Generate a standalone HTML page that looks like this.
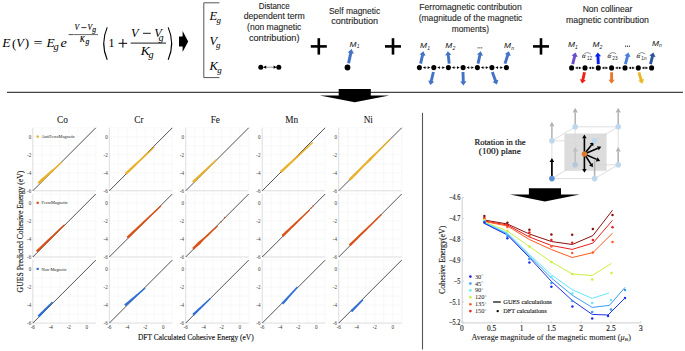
<!DOCTYPE html>
<html><head><meta charset="utf-8"><title>GUES</title>
<style>html,body{margin:0;padding:0;background:#fff;width:685px;height:351px;overflow:hidden}svg{display:block}</style>
</head><body>
<svg width="685" height="351" viewBox="0 0 685 351">
<rect width="685" height="351" fill="#fff"/>
<text x="2.30" y="47.30" font-family="Liberation Serif" font-size="13" fill="#000" font-style="italic" textLength="8.20" lengthAdjust="spacingAndGlyphs" stroke="#000" stroke-width="0.03">E</text>
<text x="12.00" y="47.50" font-family="Liberation Serif" font-size="13" fill="#000" font-style="normal" stroke="#000" stroke-width="0.03">(</text>
<text x="16.20" y="47.30" font-family="Liberation Serif" font-size="13" fill="#000" font-style="italic" textLength="7.60" lengthAdjust="spacingAndGlyphs" stroke="#000" stroke-width="0.03">V</text>
<text x="24.80" y="47.30" font-family="Liberation Serif" font-size="13" fill="#000" font-style="normal" stroke="#000" stroke-width="0.03">)</text>
<text x="33.60" y="47.30" font-family="Liberation Serif" font-size="13" fill="#000" textLength="9.00" lengthAdjust="spacingAndGlyphs">=</text>
<text x="46.60" y="47.30" font-family="Liberation Serif" font-size="13" fill="#000" font-style="italic" textLength="8.20" lengthAdjust="spacingAndGlyphs" stroke="#000" stroke-width="0.03">E</text>
<text x="53.60" y="50.20" font-family="Liberation Serif" font-size="10.5" fill="#000" font-style="italic" stroke="#000" stroke-width="0.03">g</text>
<text x="60.40" y="47.30" font-family="Liberation Serif" font-size="13" fill="#000" font-style="italic" textLength="6.30" lengthAdjust="spacingAndGlyphs" stroke="#000" stroke-width="0.03">e</text>
<line x1="68.60" y1="34.60" x2="73.40" y2="34.60" stroke="#000" stroke-width="0.7" />
<line x1="73.60" y1="34.60" x2="98.00" y2="34.60" stroke="#000" stroke-width="0.6" />
<text x="74.60" y="30.10" font-family="Liberation Serif" font-size="7.6" fill="#000" font-style="italic" stroke="#000" stroke-width="0.12">V</text>
<line x1="81.40" y1="27.60" x2="86.40" y2="27.60" stroke="#000" stroke-width="0.8" />
<text x="87.60" y="30.10" font-family="Liberation Serif" font-size="7.6" fill="#000" font-style="italic" stroke="#000" stroke-width="0.12">V</text>
<text x="92.30" y="32.40" font-family="Liberation Serif" font-size="7.6" fill="#000" font-style="italic" stroke="#000" stroke-width="0.12">g</text>
<text x="79.80" y="42.10" font-family="Liberation Serif" font-size="7.6" fill="#000" font-style="italic" stroke="#000" stroke-width="0.12">K</text>
<text x="85.60" y="44.40" font-family="Liberation Serif" font-size="7.6" fill="#000" font-style="italic" stroke="#000" stroke-width="0.12">g</text>
<path d="M107.2,27.4 Q100.2,43.5 107.2,59.8" fill="none" stroke="#000" stroke-width="1.1"/>
<path d="M168.2,27.4 Q175.2,43.5 168.2,59.8" fill="none" stroke="#000" stroke-width="1.1"/>
<text x="108.60" y="47.30" font-family="Liberation Serif" font-size="13" fill="#000" textLength="6.00" lengthAdjust="spacingAndGlyphs">1</text>
<line x1="118.60" y1="43.30" x2="127.20" y2="43.30" stroke="#000" stroke-width="1" />
<line x1="122.90" y1="39.00" x2="122.90" y2="47.60" stroke="#000" stroke-width="1" />
<line x1="130.70" y1="43.10" x2="166.00" y2="43.10" stroke="#000" stroke-width="0.9" />
<text x="131.00" y="37.10" font-family="Liberation Serif" font-size="13" fill="#000" font-style="italic" textLength="7.60" lengthAdjust="spacingAndGlyphs" stroke="#000" stroke-width="0.03">V</text>
<line x1="143.00" y1="33.30" x2="150.80" y2="33.30" stroke="#000" stroke-width="0.9" />
<text x="154.20" y="37.10" font-family="Liberation Serif" font-size="13" fill="#000" font-style="italic" textLength="7.60" lengthAdjust="spacingAndGlyphs" stroke="#000" stroke-width="0.03">V</text>
<text x="158.40" y="40.80" font-family="Liberation Serif" font-size="10.2" fill="#000" font-style="italic" stroke="#000" stroke-width="0.03">g</text>
<text x="140.80" y="55.30" font-family="Liberation Serif" font-size="13" fill="#000" font-style="italic" textLength="9.00" lengthAdjust="spacingAndGlyphs" stroke="#000" stroke-width="0.03">K</text>
<text x="148.40" y="58.40" font-family="Liberation Serif" font-size="10.2" fill="#000" font-style="italic" stroke="#000" stroke-width="0.03">g</text>
<polygon points="179.00,36.50 182.60,36.50 182.60,31.00 188.20,41.50 182.60,52.00 182.60,46.50 179.00,46.50" fill="#000" />
<polyline points="219.4,2.8 203.8,2.8 203.8,77.6 219.4,77.6" fill="none" stroke="#555" stroke-width="1"/>
<text x="209.60" y="19.80" font-family="Liberation Serif" font-size="12.5" fill="#000" font-style="italic" stroke="#000" stroke-width="0.03">E</text>
<text x="216.40" y="22.60" font-family="Liberation Serif" font-size="9" fill="#000" font-style="italic" stroke="#000" stroke-width="0.03">g</text>
<text x="209.60" y="45.20" font-family="Liberation Serif" font-size="12.5" fill="#000" font-style="italic" stroke="#000" stroke-width="0.03">V</text>
<text x="216.00" y="48.00" font-family="Liberation Serif" font-size="9" fill="#000" font-style="italic" stroke="#000" stroke-width="0.03">g</text>
<text x="209.40" y="70.30" font-family="Liberation Serif" font-size="12.5" fill="#000" font-style="italic" stroke="#000" stroke-width="0.03">K</text>
<text x="217.20" y="73.10" font-family="Liberation Serif" font-size="9" fill="#000" font-style="italic" stroke="#000" stroke-width="0.03">g</text>
<text x="274.20" y="8.60" font-family="Liberation Sans" font-size="9.2" fill="#262626" text-anchor="middle" textLength="31.00" lengthAdjust="spacingAndGlyphs" stroke="#262626" stroke-width="0.12">Distance</text>
<text x="274.20" y="19.30" font-family="Liberation Sans" font-size="9.2" fill="#262626" text-anchor="middle" textLength="61.00" lengthAdjust="spacingAndGlyphs" stroke="#262626" stroke-width="0.12">dependent term</text>
<text x="274.20" y="30.20" font-family="Liberation Sans" font-size="9.2" fill="#262626" text-anchor="middle" textLength="54.30" lengthAdjust="spacingAndGlyphs" stroke="#262626" stroke-width="0.12">(non magnetic</text>
<text x="274.20" y="41.00" font-family="Liberation Sans" font-size="9.2" fill="#262626" text-anchor="middle" textLength="50.60" lengthAdjust="spacingAndGlyphs" stroke="#262626" stroke-width="0.12">contribution)</text>
<text x="354.60" y="13.80" font-family="Liberation Sans" font-size="9.2" fill="#262626" text-anchor="middle" textLength="51.30" lengthAdjust="spacingAndGlyphs" stroke="#262626" stroke-width="0.12">Self magnetic</text>
<text x="354.60" y="24.00" font-family="Liberation Sans" font-size="9.2" fill="#262626" text-anchor="middle" textLength="46.90" lengthAdjust="spacingAndGlyphs" stroke="#262626" stroke-width="0.12">contribution</text>
<text x="470.50" y="10.10" font-family="Liberation Sans" font-size="9.2" fill="#262626" text-anchor="middle" textLength="102.40" lengthAdjust="spacingAndGlyphs" stroke="#262626" stroke-width="0.12">Ferromagnetic contribution</text>
<text x="470.50" y="21.00" font-family="Liberation Sans" font-size="9.2" fill="#262626" text-anchor="middle" textLength="103.70" lengthAdjust="spacingAndGlyphs" stroke="#262626" stroke-width="0.12">(magnitude of the magnetic</text>
<text x="470.30" y="31.90" font-family="Liberation Sans" font-size="9.2" fill="#262626" text-anchor="middle" textLength="37.30" lengthAdjust="spacingAndGlyphs" stroke="#262626" stroke-width="0.12">moments)</text>
<text x="607.50" y="11.70" font-family="Liberation Sans" font-size="9.2" fill="#262626" text-anchor="middle" textLength="49.70" lengthAdjust="spacingAndGlyphs" stroke="#262626" stroke-width="0.12">Non collinear</text>
<text x="607.50" y="23.10" font-family="Liberation Sans" font-size="9.2" fill="#262626" text-anchor="middle" textLength="82.90" lengthAdjust="spacingAndGlyphs" stroke="#262626" stroke-width="0.12">magnetic contribution</text>
<rect x="310.80" y="45.1" width="16" height="2.6" fill="#000"/>
<rect x="317.50" y="38.2" width="2.6" height="16.4" fill="#000"/>
<rect x="385.00" y="45.1" width="16" height="2.6" fill="#000"/>
<rect x="391.70" y="38.2" width="2.6" height="16.4" fill="#000"/>
<rect x="533.00" y="45.1" width="16" height="2.6" fill="#000"/>
<rect x="539.70" y="38.2" width="2.6" height="16.4" fill="#000"/>
<line x1="264.50" y1="67.20" x2="275.20" y2="67.20" stroke="#555" stroke-width="0.6" />
<polygon points="263.20,67.20 266.20,65.60 266.20,68.80" fill="#000" />
<polygon points="276.60,67.20 273.60,65.60 273.60,68.80" fill="#000" />
<circle cx="260.80" cy="67.20" r="2.5" fill="#000" />
<circle cx="278.80" cy="67.20" r="2.5" fill="#000" />
<polygon points="350.07,63.51 352.20,53.42 353.86,53.77 351.60,49.00 347.60,52.45 349.26,52.80 347.13,62.89" fill="#4472c4" />
<circle cx="347.50" cy="67.50" r="2.9" fill="#000" />
<text x="349.60" y="46.60" font-family="Liberation Sans" font-size="7.0" fill="#1a1a1a" font-style="italic" textLength="7.00" lengthAdjust="spacingAndGlyphs" stroke="#1a1a1a" stroke-width="0.04">M</text>
<text x="356.80" y="48.40" font-family="Liberation Sans" font-size="5.0" fill="#1a1a1a" font-style="italic">1</text>
<line x1="424.90" y1="67.60" x2="428.30" y2="67.60" stroke="#666" stroke-width="0.7" stroke-dasharray="0.8,0.6"/>
<polygon points="422.90,67.60 425.50,66.20 425.50,69.00" fill="#000" />
<polygon points="430.30,67.60 427.70,66.20 427.70,69.00" fill="#000" />
<line x1="439.30" y1="67.60" x2="442.90" y2="67.60" stroke="#666" stroke-width="0.7" stroke-dasharray="0.8,0.6"/>
<polygon points="437.30,67.60 439.90,66.20 439.90,69.00" fill="#000" />
<polygon points="444.90,67.60 442.30,66.20 442.30,69.00" fill="#000" />
<line x1="453.90" y1="67.60" x2="457.60" y2="67.60" stroke="#666" stroke-width="0.7" stroke-dasharray="0.8,0.6"/>
<polygon points="451.90,67.60 454.50,66.20 454.50,69.00" fill="#000" />
<polygon points="459.60,67.60 457.00,66.20 457.00,69.00" fill="#000" />
<line x1="468.60" y1="67.60" x2="471.90" y2="67.60" stroke="#666" stroke-width="0.7" stroke-dasharray="0.8,0.6"/>
<polygon points="466.60,67.60 469.20,66.20 469.20,69.00" fill="#000" />
<polygon points="473.90,67.60 471.30,66.20 471.30,69.00" fill="#000" />
<line x1="482.90" y1="67.60" x2="486.40" y2="67.60" stroke="#666" stroke-width="0.7" stroke-dasharray="0.8,0.6"/>
<polygon points="480.90,67.60 483.50,66.20 483.50,69.00" fill="#000" />
<polygon points="488.40,67.60 485.80,66.20 485.80,69.00" fill="#000" />
<line x1="497.40" y1="67.60" x2="500.90" y2="67.60" stroke="#666" stroke-width="0.7" stroke-dasharray="0.8,0.6"/>
<polygon points="495.40,67.60 498.00,66.20 498.00,69.00" fill="#000" />
<polygon points="502.90,67.60 500.30,66.20 500.30,69.00" fill="#000" />
<polygon points="422.01,63.92 423.93,55.42 425.59,55.80 423.40,51.20 419.45,54.41 421.10,54.78 419.19,63.28" fill="#4472c4" />
<polygon points="450.64,63.44 449.69,55.01 451.38,54.82 447.80,51.20 445.12,55.53 446.81,55.34 447.76,63.76" fill="#4472c4" />
<polygon points="479.41,63.92 481.33,55.42 482.99,55.80 480.80,51.20 476.85,54.41 478.50,54.78 476.59,63.28" fill="#4472c4" />
<polygon points="506.38,64.05 509.15,55.45 510.77,55.97 509.00,51.20 504.77,54.04 506.39,54.56 503.62,63.15" fill="#4472c4" />
<polygon points="431.99,71.66 429.82,80.77 428.16,80.38 430.30,85.00 434.29,81.84 432.64,81.45 434.81,72.34" fill="#4472c4" />
<polygon points="461.55,72.04 461.83,81.45 460.13,81.50 463.40,85.40 466.43,81.31 464.73,81.36 464.45,71.96" fill="#4472c4" />
<polygon points="490.94,72.50 494.17,81.34 492.57,81.92 496.90,84.60 498.49,79.76 496.89,80.35 493.66,71.50" fill="#4472c4" />
<circle cx="419.40" cy="67.60" r="2.55" fill="#000" />
<circle cx="433.80" cy="67.60" r="2.55" fill="#000" />
<circle cx="448.40" cy="67.60" r="2.55" fill="#000" />
<circle cx="463.10" cy="67.60" r="2.55" fill="#000" />
<circle cx="477.40" cy="67.60" r="2.55" fill="#000" />
<circle cx="491.90" cy="67.60" r="2.55" fill="#000" />
<circle cx="506.40" cy="67.60" r="2.55" fill="#000" />
<text x="420.00" y="47.80" font-family="Liberation Sans" font-size="7.0" fill="#1a1a1a" font-style="italic" textLength="7.00" lengthAdjust="spacingAndGlyphs" stroke="#1a1a1a" stroke-width="0.04">M</text>
<text x="427.20" y="49.60" font-family="Liberation Sans" font-size="5.0" fill="#1a1a1a" font-style="italic">1</text>
<text x="445.20" y="47.90" font-family="Liberation Sans" font-size="7.0" fill="#1a1a1a" font-style="italic" textLength="7.00" lengthAdjust="spacingAndGlyphs" stroke="#1a1a1a" stroke-width="0.04">M</text>
<text x="452.40" y="49.70" font-family="Liberation Sans" font-size="5.0" fill="#1a1a1a" font-style="italic">2</text>
<circle cx="478.00" cy="47.80" r="0.6" fill="#222" />
<circle cx="479.90" cy="47.80" r="0.6" fill="#222" />
<circle cx="481.80" cy="47.80" r="0.6" fill="#222" />
<text x="504.00" y="47.90" font-family="Liberation Sans" font-size="7.0" fill="#1a1a1a" font-style="italic" textLength="7.00" lengthAdjust="spacingAndGlyphs" stroke="#1a1a1a" stroke-width="0.04">M</text>
<text x="511.20" y="49.70" font-family="Liberation Sans" font-size="5.0" fill="#1a1a1a" font-style="italic">n</text>
<line x1="577.10" y1="67.90" x2="579.50" y2="67.90" stroke="#666" stroke-width="0.7" stroke-dasharray="0.8,0.6"/>
<polygon points="575.10,67.90 577.70,66.50 577.70,69.30" fill="#000" />
<polygon points="581.50,67.90 578.90,66.50 578.90,69.30" fill="#000" />
<line x1="590.50" y1="67.90" x2="592.80" y2="67.90" stroke="#666" stroke-width="0.7" stroke-dasharray="0.8,0.6"/>
<polygon points="588.50,67.90 591.10,66.50 591.10,69.30" fill="#000" />
<polygon points="594.80,67.90 592.20,66.50 592.20,69.30" fill="#000" />
<line x1="603.80" y1="67.90" x2="606.10" y2="67.90" stroke="#666" stroke-width="0.7" stroke-dasharray="0.8,0.6"/>
<polygon points="601.80,67.90 604.40,66.50 604.40,69.30" fill="#000" />
<polygon points="608.10,67.90 605.50,66.50 605.50,69.30" fill="#000" />
<line x1="617.10" y1="67.90" x2="619.50" y2="67.90" stroke="#666" stroke-width="0.7" stroke-dasharray="0.8,0.6"/>
<polygon points="615.10,67.90 617.70,66.50 617.70,69.30" fill="#000" />
<polygon points="621.50,67.90 618.90,66.50 618.90,69.30" fill="#000" />
<line x1="630.50" y1="67.90" x2="632.80" y2="67.90" stroke="#666" stroke-width="0.7" stroke-dasharray="0.8,0.6"/>
<polygon points="628.50,67.90 631.10,66.50 631.10,69.30" fill="#000" />
<polygon points="634.80,67.90 632.20,66.50 632.20,69.30" fill="#000" />
<line x1="643.80" y1="67.90" x2="646.10" y2="67.90" stroke="#666" stroke-width="0.7" stroke-dasharray="0.8,0.6"/>
<polygon points="641.80,67.90 644.40,66.50 644.40,69.30" fill="#000" />
<polygon points="648.10,67.90 645.50,66.50 645.50,69.30" fill="#000" />
<polygon points="574.11,64.45 576.05,56.63 577.70,57.04 575.60,52.40 571.58,55.52 573.23,55.93 571.29,63.75" fill="#6b4fc8" />
<polygon points="599.75,64.04 599.42,56.33 601.12,56.26 597.80,52.40 594.82,56.53 596.52,56.46 596.85,64.16" fill="#0a1ef0" />
<polygon points="626.80,64.47 628.88,56.64 630.52,57.07 628.50,52.40 624.43,55.46 626.07,55.90 624.00,63.73" fill="#4a80d8" />
<polygon points="651.91,64.45 653.85,56.63 655.50,57.04 653.40,52.40 649.38,55.52 651.03,55.93 649.09,63.75" fill="#2c55a0" />
<polygon points="583.08,71.99 581.45,79.38 579.79,79.01 582.00,83.60 585.94,80.37 584.28,80.01 585.92,72.61" fill="#f01e14" />
<polygon points="610.15,72.30 610.15,79.80 608.45,79.80 611.60,83.80 614.75,79.80 613.05,79.80 613.05,72.30" fill="#e8782e" />
<polygon points="637.51,72.71 639.78,80.38 638.15,80.86 642.30,83.80 644.19,79.07 642.56,79.55 640.29,71.89" fill="#e8b828" />
<circle cx="571.60" cy="67.90" r="2.55" fill="#000" />
<circle cx="585.00" cy="67.90" r="2.55" fill="#000" />
<circle cx="598.30" cy="67.90" r="2.55" fill="#000" />
<circle cx="611.60" cy="67.90" r="2.55" fill="#000" />
<circle cx="625.00" cy="67.90" r="2.55" fill="#000" />
<circle cx="638.30" cy="67.90" r="2.55" fill="#000" />
<circle cx="651.60" cy="67.90" r="2.55" fill="#000" />
<text x="567.90" y="47.10" font-family="Liberation Sans" font-size="7.0" fill="#1a1a1a" font-style="italic" textLength="7.00" lengthAdjust="spacingAndGlyphs" stroke="#1a1a1a" stroke-width="0.04">M</text>
<text x="575.10" y="48.90" font-family="Liberation Sans" font-size="5.0" fill="#1a1a1a" font-style="italic">1</text>
<text x="592.40" y="47.10" font-family="Liberation Sans" font-size="7.0" fill="#1a1a1a" font-style="italic" textLength="7.00" lengthAdjust="spacingAndGlyphs" stroke="#1a1a1a" stroke-width="0.04">M</text>
<text x="599.60" y="48.90" font-family="Liberation Sans" font-size="5.0" fill="#1a1a1a" font-style="italic">2</text>
<circle cx="625.60" cy="46.20" r="0.6" fill="#222" />
<circle cx="627.50" cy="46.20" r="0.6" fill="#222" />
<circle cx="629.40" cy="46.20" r="0.6" fill="#222" />
<text x="651.90" y="45.60" font-family="Liberation Sans" font-size="7.0" fill="#1a1a1a" font-style="italic" textLength="7.00" lengthAdjust="spacingAndGlyphs" stroke="#1a1a1a" stroke-width="0.04">M</text>
<text x="659.10" y="47.40" font-family="Liberation Sans" font-size="5.0" fill="#1a1a1a" font-style="italic">n</text>
<text x="582.00" y="57.90" font-family="Liberation Serif" font-size="6.8" fill="#222" font-style="italic" stroke="#222" stroke-width="0.12">α</text>
<text x="586.90" y="59.60" font-family="Liberation Sans" font-size="4.9" fill="#222" textLength="5.20" lengthAdjust="spacingAndGlyphs">12</text>
<path d="M582.60,55.6 Q586.60,50.6 590.80,54.0" fill="none" stroke="#333" stroke-width="0.55"/>
<text x="607.40" y="57.90" font-family="Liberation Serif" font-size="6.8" fill="#222" font-style="italic" stroke="#222" stroke-width="0.12">α</text>
<text x="612.30" y="59.60" font-family="Liberation Sans" font-size="4.9" fill="#222" textLength="5.20" lengthAdjust="spacingAndGlyphs">23</text>
<path d="M608.00,55.6 Q612.00,50.6 616.20,54.0" fill="none" stroke="#333" stroke-width="0.55"/>
<text x="636.40" y="57.90" font-family="Liberation Serif" font-size="6.8" fill="#222" font-style="italic" stroke="#222" stroke-width="0.12">α</text>
<text x="641.30" y="59.60" font-family="Liberation Sans" font-size="4.9" fill="#222" textLength="5.20" lengthAdjust="spacingAndGlyphs">1n</text>
<path d="M637.00,55.6 Q641.00,50.6 645.20,54.0" fill="none" stroke="#333" stroke-width="0.55"/>
<line x1="7.00" y1="92.40" x2="683.00" y2="92.40" stroke="#444" stroke-width="1.1" />
<polygon points="338.70,88.90 370.80,88.90 370.80,95.40 389.30,95.40 354.70,102.20 319.80,95.40 338.70,95.40" fill="#000" />
<polygon points="528.90,188.30 561.00,188.30 561.00,194.60 579.70,194.60 544.90,201.60 510.00,194.60 528.90,194.60" fill="#000" />
<line x1="422.50" y1="112.80" x2="422.50" y2="349.50" stroke="#555" stroke-width="1.1" />
<path d="M41.80,127.80V190.80M32.80,181.80H95.80M50.80,127.80V190.80M32.80,172.80H95.80M59.80,127.80V190.80M32.80,163.80H95.80M68.80,127.80V190.80M32.80,154.80H95.80M77.80,127.80V190.80M32.80,145.80H95.80M86.80,127.80V190.80M32.80,136.80H95.80M95.80,127.80V190.80M32.80,127.80H95.80" stroke="#f3f3f3" stroke-width="0.6" fill="none"/>
<line x1="32.80" y1="127.80" x2="32.80" y2="190.80" stroke="#cfcfcf" stroke-width="0.7" />
<line x1="32.80" y1="190.80" x2="95.80" y2="190.80" stroke="#cfcfcf" stroke-width="0.7" />
<text x="31.20" y="138.50" font-family="Liberation Serif" font-size="5.1" fill="#3a3a3a" text-anchor="end">0</text>
<text x="31.20" y="156.50" font-family="Liberation Serif" font-size="5.1" fill="#3a3a3a" text-anchor="end">-2</text>
<text x="31.20" y="174.50" font-family="Liberation Serif" font-size="5.1" fill="#3a3a3a" text-anchor="end">-4</text>
<text x="31.20" y="192.50" font-family="Liberation Serif" font-size="5.1" fill="#3a3a3a" text-anchor="end">-6</text>
<line x1="32.80" y1="190.80" x2="95.80" y2="127.80" stroke="#404040" stroke-width="0.9" />
<polygon points="39.24,184.13 41.21,182.37 43.31,180.75 45.15,178.84 46.97,176.91 48.90,175.11 50.90,173.38 52.90,171.65 54.72,169.72 56.63,167.90 58.57,166.09 60.50,164.29 62.43,162.48 61.57,161.52 59.57,163.25 57.57,164.98 55.57,166.70 53.54,168.41 51.43,170.01 49.50,171.82 47.57,173.62 45.56,175.35 43.45,176.96 41.36,178.58 39.53,180.50 37.56,182.27" fill="#e9b02a" />
<path d="M118.30,127.80V190.80M109.30,181.80H172.30M127.30,127.80V190.80M109.30,172.80H172.30M136.30,127.80V190.80M109.30,163.80H172.30M145.30,127.80V190.80M109.30,154.80H172.30M154.30,127.80V190.80M109.30,145.80H172.30M163.30,127.80V190.80M109.30,136.80H172.30M172.30,127.80V190.80M109.30,127.80H172.30" stroke="#f3f3f3" stroke-width="0.6" fill="none"/>
<line x1="109.30" y1="127.80" x2="109.30" y2="190.80" stroke="#cfcfcf" stroke-width="0.7" />
<line x1="109.30" y1="190.80" x2="172.30" y2="190.80" stroke="#cfcfcf" stroke-width="0.7" />
<text x="107.70" y="138.50" font-family="Liberation Serif" font-size="5.1" fill="#3a3a3a" text-anchor="end">0</text>
<text x="107.70" y="156.50" font-family="Liberation Serif" font-size="5.1" fill="#3a3a3a" text-anchor="end">-2</text>
<text x="107.70" y="174.50" font-family="Liberation Serif" font-size="5.1" fill="#3a3a3a" text-anchor="end">-4</text>
<text x="107.70" y="192.50" font-family="Liberation Serif" font-size="5.1" fill="#3a3a3a" text-anchor="end">-6</text>
<line x1="109.30" y1="190.80" x2="172.30" y2="127.80" stroke="#404040" stroke-width="0.9" />
<polygon points="126.55,174.71 128.90,172.44 131.25,170.17 133.60,167.90 135.95,165.63 138.30,163.36 140.65,161.09 143.00,158.82 145.35,156.55 147.70,154.28 150.05,152.01 152.40,149.74 154.74,147.47 153.86,146.53 151.44,148.72 149.02,150.92 146.60,153.12 144.19,155.31 141.77,157.51 139.35,159.71 136.93,161.90 134.52,164.10 132.10,166.30 129.68,168.49 127.26,170.69 124.85,172.89" fill="#e9b02a" />
<path d="M194.70,127.80V190.80M185.70,181.80H248.70M203.70,127.80V190.80M185.70,172.80H248.70M212.70,127.80V190.80M185.70,163.80H248.70M221.70,127.80V190.80M185.70,154.80H248.70M230.70,127.80V190.80M185.70,145.80H248.70M239.70,127.80V190.80M185.70,136.80H248.70M248.70,127.80V190.80M185.70,127.80H248.70" stroke="#f3f3f3" stroke-width="0.6" fill="none"/>
<line x1="185.70" y1="127.80" x2="185.70" y2="190.80" stroke="#cfcfcf" stroke-width="0.7" />
<line x1="185.70" y1="190.80" x2="248.70" y2="190.80" stroke="#cfcfcf" stroke-width="0.7" />
<text x="184.10" y="138.50" font-family="Liberation Serif" font-size="5.1" fill="#3a3a3a" text-anchor="end">0</text>
<text x="184.10" y="156.50" font-family="Liberation Serif" font-size="5.1" fill="#3a3a3a" text-anchor="end">-2</text>
<text x="184.10" y="174.50" font-family="Liberation Serif" font-size="5.1" fill="#3a3a3a" text-anchor="end">-4</text>
<text x="184.10" y="192.50" font-family="Liberation Serif" font-size="5.1" fill="#3a3a3a" text-anchor="end">-6</text>
<line x1="185.70" y1="190.80" x2="248.70" y2="127.80" stroke="#404040" stroke-width="0.9" />
<polygon points="193.76,183.10 195.69,181.19 197.61,179.28 199.54,177.37 201.46,175.46 203.38,173.55 205.31,171.64 207.23,169.73 209.15,167.81 211.08,165.90 213.00,163.99 214.93,162.08 216.85,160.17 215.95,159.23 213.96,161.07 211.96,162.91 209.97,164.75 207.98,166.59 205.99,168.42 203.99,170.26 202.00,172.10 200.01,173.94 198.01,175.78 196.02,177.62 194.03,179.46 192.04,181.30" fill="#e9b02a" />
<path d="M271.20,127.80V190.80M262.20,181.80H325.20M280.20,127.80V190.80M262.20,172.80H325.20M289.20,127.80V190.80M262.20,163.80H325.20M298.20,127.80V190.80M262.20,154.80H325.20M307.20,127.80V190.80M262.20,145.80H325.20M316.20,127.80V190.80M262.20,136.80H325.20M325.20,127.80V190.80M262.20,127.80H325.20" stroke="#f3f3f3" stroke-width="0.6" fill="none"/>
<line x1="262.20" y1="127.80" x2="262.20" y2="190.80" stroke="#cfcfcf" stroke-width="0.7" />
<line x1="262.20" y1="190.80" x2="325.20" y2="190.80" stroke="#cfcfcf" stroke-width="0.7" />
<text x="260.60" y="138.50" font-family="Liberation Serif" font-size="5.1" fill="#3a3a3a" text-anchor="end">0</text>
<text x="260.60" y="156.50" font-family="Liberation Serif" font-size="5.1" fill="#3a3a3a" text-anchor="end">-2</text>
<text x="260.60" y="174.50" font-family="Liberation Serif" font-size="5.1" fill="#3a3a3a" text-anchor="end">-4</text>
<text x="260.60" y="192.50" font-family="Liberation Serif" font-size="5.1" fill="#3a3a3a" text-anchor="end">-6</text>
<line x1="262.20" y1="190.80" x2="325.20" y2="127.80" stroke="#404040" stroke-width="0.9" />
<polygon points="281.55,172.92 284.17,170.43 286.80,167.95 289.42,165.46 292.04,162.97 294.67,160.49 297.29,158.00 299.92,155.51 302.54,153.03 305.17,150.54 307.79,148.05 310.42,145.56 313.04,143.08 312.16,142.12 309.47,144.54 306.78,146.95 304.08,149.36 301.39,151.77 298.70,154.19 296.01,156.60 293.31,159.01 290.62,161.43 287.93,163.84 285.24,166.25 282.55,168.67 279.85,171.08" fill="#e9b02a" />
<path d="M347.70,127.80V190.80M338.70,181.80H401.70M356.70,127.80V190.80M338.70,172.80H401.70M365.70,127.80V190.80M338.70,163.80H401.70M374.70,127.80V190.80M338.70,154.80H401.70M383.70,127.80V190.80M338.70,145.80H401.70M392.70,127.80V190.80M338.70,136.80H401.70M401.70,127.80V190.80M338.70,127.80H401.70" stroke="#f3f3f3" stroke-width="0.6" fill="none"/>
<line x1="338.70" y1="127.80" x2="338.70" y2="190.80" stroke="#cfcfcf" stroke-width="0.7" />
<line x1="338.70" y1="190.80" x2="401.70" y2="190.80" stroke="#cfcfcf" stroke-width="0.7" />
<text x="337.10" y="138.50" font-family="Liberation Serif" font-size="5.1" fill="#3a3a3a" text-anchor="end">0</text>
<text x="337.10" y="156.50" font-family="Liberation Serif" font-size="5.1" fill="#3a3a3a" text-anchor="end">-2</text>
<text x="337.10" y="174.50" font-family="Liberation Serif" font-size="5.1" fill="#3a3a3a" text-anchor="end">-4</text>
<text x="337.10" y="192.50" font-family="Liberation Serif" font-size="5.1" fill="#3a3a3a" text-anchor="end">-6</text>
<line x1="338.70" y1="190.80" x2="401.70" y2="127.80" stroke="#404040" stroke-width="0.9" />
<polygon points="350.48,180.68 353.81,177.29 357.13,173.90 360.45,170.50 363.78,167.11 367.16,163.78 370.71,160.61 373.88,157.07 377.07,153.53 380.39,150.14 383.71,146.75 387.04,143.35 390.36,139.96 389.44,139.04 386.05,142.36 382.65,145.69 379.26,149.01 375.87,152.33 372.33,155.52 368.79,158.69 365.62,162.24 362.29,165.62 358.90,168.95 355.50,172.27 352.11,175.59 348.72,178.92" fill="#e9b02a" />
<rect x="36.60" y="135.50" width="2.2" height="2.2" fill="#e9b02a"/>
<text x="41.50" y="138.20" font-family="Liberation Serif" font-size="5.0" fill="#222" textLength="33.40" lengthAdjust="spacingAndGlyphs">AntiFerroMagnetic</text>
<path d="M41.80,194.00V257.00M32.80,248.00H95.80M50.80,194.00V257.00M32.80,239.00H95.80M59.80,194.00V257.00M32.80,230.00H95.80M68.80,194.00V257.00M32.80,221.00H95.80M77.80,194.00V257.00M32.80,212.00H95.80M86.80,194.00V257.00M32.80,203.00H95.80M95.80,194.00V257.00M32.80,194.00H95.80" stroke="#f3f3f3" stroke-width="0.6" fill="none"/>
<line x1="32.80" y1="194.00" x2="32.80" y2="257.00" stroke="#cfcfcf" stroke-width="0.7" />
<line x1="32.80" y1="257.00" x2="95.80" y2="257.00" stroke="#cfcfcf" stroke-width="0.7" />
<text x="31.20" y="204.70" font-family="Liberation Serif" font-size="5.1" fill="#3a3a3a" text-anchor="end">0</text>
<text x="31.20" y="222.70" font-family="Liberation Serif" font-size="5.1" fill="#3a3a3a" text-anchor="end">-2</text>
<text x="31.20" y="240.70" font-family="Liberation Serif" font-size="5.1" fill="#3a3a3a" text-anchor="end">-4</text>
<text x="31.20" y="258.70" font-family="Liberation Serif" font-size="5.1" fill="#3a3a3a" text-anchor="end">-6</text>
<line x1="32.80" y1="257.00" x2="95.80" y2="194.00" stroke="#404040" stroke-width="0.9" />
<polygon points="37.67,252.40 39.95,250.12 42.23,247.84 44.51,245.57 46.80,243.29 49.08,241.01 51.36,238.73 53.64,236.46 55.92,234.18 58.21,231.90 60.49,229.62 62.77,227.34 65.05,225.07 64.15,224.13 61.80,226.34 59.45,228.54 57.09,230.75 54.74,232.96 52.39,235.16 50.04,237.37 47.69,239.57 45.34,241.78 42.99,243.98 40.63,246.19 38.28,248.40 35.93,250.60" fill="#d95319" />
<path d="M118.30,194.00V257.00M109.30,248.00H172.30M127.30,194.00V257.00M109.30,239.00H172.30M136.30,194.00V257.00M109.30,230.00H172.30M145.30,194.00V257.00M109.30,221.00H172.30M154.30,194.00V257.00M109.30,212.00H172.30M163.30,194.00V257.00M109.30,203.00H172.30M172.30,194.00V257.00M109.30,194.00H172.30" stroke="#f3f3f3" stroke-width="0.6" fill="none"/>
<line x1="109.30" y1="194.00" x2="109.30" y2="257.00" stroke="#cfcfcf" stroke-width="0.7" />
<line x1="109.30" y1="257.00" x2="172.30" y2="257.00" stroke="#cfcfcf" stroke-width="0.7" />
<text x="107.70" y="204.70" font-family="Liberation Serif" font-size="5.1" fill="#3a3a3a" text-anchor="end">0</text>
<text x="107.70" y="222.70" font-family="Liberation Serif" font-size="5.1" fill="#3a3a3a" text-anchor="end">-2</text>
<text x="107.70" y="240.70" font-family="Liberation Serif" font-size="5.1" fill="#3a3a3a" text-anchor="end">-4</text>
<text x="107.70" y="258.70" font-family="Liberation Serif" font-size="5.1" fill="#3a3a3a" text-anchor="end">-6</text>
<line x1="109.30" y1="257.00" x2="172.30" y2="194.00" stroke="#404040" stroke-width="0.9" />
<polygon points="128.26,238.61 131.03,235.91 133.79,233.22 136.56,230.52 139.32,227.83 142.09,225.13 144.85,222.44 147.62,219.74 150.39,217.05 153.15,214.36 155.92,211.66 158.68,208.97 161.45,206.27 160.55,205.33 157.72,207.95 154.88,210.57 152.05,213.19 149.21,215.82 146.38,218.44 143.55,221.06 140.71,223.68 137.88,226.31 135.04,228.93 132.21,231.55 129.37,234.17 126.54,236.79" fill="#d95319" />
<path d="M194.70,194.00V257.00M185.70,248.00H248.70M203.70,194.00V257.00M185.70,239.00H248.70M212.70,194.00V257.00M185.70,230.00H248.70M221.70,194.00V257.00M185.70,221.00H248.70M230.70,194.00V257.00M185.70,212.00H248.70M239.70,194.00V257.00M185.70,203.00H248.70M248.70,194.00V257.00M185.70,194.00H248.70" stroke="#f3f3f3" stroke-width="0.6" fill="none"/>
<line x1="185.70" y1="194.00" x2="185.70" y2="257.00" stroke="#cfcfcf" stroke-width="0.7" />
<line x1="185.70" y1="257.00" x2="248.70" y2="257.00" stroke="#cfcfcf" stroke-width="0.7" />
<text x="184.10" y="204.70" font-family="Liberation Serif" font-size="5.1" fill="#3a3a3a" text-anchor="end">0</text>
<text x="184.10" y="222.70" font-family="Liberation Serif" font-size="5.1" fill="#3a3a3a" text-anchor="end">-2</text>
<text x="184.10" y="240.70" font-family="Liberation Serif" font-size="5.1" fill="#3a3a3a" text-anchor="end">-4</text>
<text x="184.10" y="258.70" font-family="Liberation Serif" font-size="5.1" fill="#3a3a3a" text-anchor="end">-6</text>
<line x1="185.70" y1="257.00" x2="248.70" y2="194.00" stroke="#404040" stroke-width="0.9" />
<polygon points="193.85,249.72 195.86,247.78 197.92,245.90 200.12,244.17 202.00,242.10 203.89,240.03 205.90,238.10 207.90,236.16 209.91,234.22 211.92,232.29 213.93,230.35 215.94,228.41 217.94,226.48 217.06,225.52 214.98,227.39 212.91,229.25 210.83,231.11 208.75,232.98 206.68,234.84 204.60,236.70 202.53,238.57 200.33,240.30 198.13,242.03 196.25,244.10 194.22,246.02 192.15,247.88" fill="#d95319" />
<path d="M271.20,194.00V257.00M262.20,248.00H325.20M280.20,194.00V257.00M262.20,239.00H325.20M289.20,194.00V257.00M262.20,230.00H325.20M298.20,194.00V257.00M262.20,221.00H325.20M307.20,194.00V257.00M262.20,212.00H325.20M316.20,194.00V257.00M262.20,203.00H325.20M325.20,194.00V257.00M262.20,194.00H325.20" stroke="#f3f3f3" stroke-width="0.6" fill="none"/>
<line x1="262.20" y1="194.00" x2="262.20" y2="257.00" stroke="#cfcfcf" stroke-width="0.7" />
<line x1="262.20" y1="257.00" x2="325.20" y2="257.00" stroke="#cfcfcf" stroke-width="0.7" />
<text x="260.60" y="204.70" font-family="Liberation Serif" font-size="5.1" fill="#3a3a3a" text-anchor="end">0</text>
<text x="260.60" y="222.70" font-family="Liberation Serif" font-size="5.1" fill="#3a3a3a" text-anchor="end">-2</text>
<text x="260.60" y="240.70" font-family="Liberation Serif" font-size="5.1" fill="#3a3a3a" text-anchor="end">-4</text>
<text x="260.60" y="258.70" font-family="Liberation Serif" font-size="5.1" fill="#3a3a3a" text-anchor="end">-6</text>
<line x1="262.20" y1="257.00" x2="325.20" y2="194.00" stroke="#404040" stroke-width="0.9" />
<polygon points="283.27,236.90 285.49,234.70 287.71,232.50 289.94,230.29 292.16,228.09 294.38,225.89 296.61,223.69 298.83,221.48 301.06,219.28 303.28,217.08 305.50,214.87 307.73,212.67 309.95,210.47 309.05,209.53 306.76,211.66 304.46,213.79 302.17,215.92 299.88,218.05 297.59,220.18 295.29,222.31 293.00,224.45 290.71,226.58 288.41,228.71 286.12,230.84 283.83,232.97 281.53,235.10" fill="#d95319" />
<path d="M347.70,194.00V257.00M338.70,248.00H401.70M356.70,194.00V257.00M338.70,239.00H401.70M365.70,194.00V257.00M338.70,230.00H401.70M374.70,194.00V257.00M338.70,221.00H401.70M383.70,194.00V257.00M338.70,212.00H401.70M392.70,194.00V257.00M338.70,203.00H401.70M401.70,194.00V257.00M338.70,194.00H401.70" stroke="#f3f3f3" stroke-width="0.6" fill="none"/>
<line x1="338.70" y1="194.00" x2="338.70" y2="257.00" stroke="#cfcfcf" stroke-width="0.7" />
<line x1="338.70" y1="257.00" x2="401.70" y2="257.00" stroke="#cfcfcf" stroke-width="0.7" />
<text x="337.10" y="204.70" font-family="Liberation Serif" font-size="5.1" fill="#3a3a3a" text-anchor="end">0</text>
<text x="337.10" y="222.70" font-family="Liberation Serif" font-size="5.1" fill="#3a3a3a" text-anchor="end">-2</text>
<text x="337.10" y="240.70" font-family="Liberation Serif" font-size="5.1" fill="#3a3a3a" text-anchor="end">-4</text>
<text x="337.10" y="258.70" font-family="Liberation Serif" font-size="5.1" fill="#3a3a3a" text-anchor="end">-6</text>
<line x1="338.70" y1="257.00" x2="401.70" y2="194.00" stroke="#404040" stroke-width="0.9" />
<polygon points="350.47,246.30 353.09,243.69 355.72,241.08 358.34,238.47 360.96,235.85 363.59,233.24 366.21,230.63 368.83,228.02 371.46,225.41 374.08,222.80 376.71,220.19 379.33,217.58 381.95,214.97 381.05,214.03 378.35,216.57 375.66,219.11 372.97,221.65 370.28,224.19 367.58,226.73 364.89,229.27 362.20,231.81 359.50,234.35 356.81,236.88 354.12,239.42 351.42,241.96 348.73,244.50" fill="#d95319" />
<circle cx="221.20" cy="221.80" r="0.8" fill="#d95319" />
<circle cx="224.60" cy="217.60" r="0.8" fill="#d95319" />
<circle cx="311.50" cy="207.80" r="0.8" fill="#d95319" />
<circle cx="313.00" cy="206.00" r="0.7" fill="#d95319" />
<rect x="36.60" y="201.70" width="2.2" height="2.2" fill="#d95319"/>
<text x="41.50" y="204.40" font-family="Liberation Serif" font-size="5.0" fill="#222" textLength="26.30" lengthAdjust="spacingAndGlyphs">FerroMagnetic</text>
<path d="M41.80,260.10V323.10M32.80,314.10H95.80M50.80,260.10V323.10M32.80,305.10H95.80M59.80,260.10V323.10M32.80,296.10H95.80M68.80,260.10V323.10M32.80,287.10H95.80M77.80,260.10V323.10M32.80,278.10H95.80M86.80,260.10V323.10M32.80,269.10H95.80M95.80,260.10V323.10M32.80,260.10H95.80" stroke="#f3f3f3" stroke-width="0.6" fill="none"/>
<line x1="32.80" y1="260.10" x2="32.80" y2="323.10" stroke="#cfcfcf" stroke-width="0.7" />
<line x1="32.80" y1="323.10" x2="95.80" y2="323.10" stroke="#cfcfcf" stroke-width="0.7" />
<text x="31.20" y="270.80" font-family="Liberation Serif" font-size="5.1" fill="#3a3a3a" text-anchor="end">0</text>
<text x="31.20" y="288.80" font-family="Liberation Serif" font-size="5.1" fill="#3a3a3a" text-anchor="end">-2</text>
<text x="31.20" y="306.80" font-family="Liberation Serif" font-size="5.1" fill="#3a3a3a" text-anchor="end">-4</text>
<text x="31.20" y="324.80" font-family="Liberation Serif" font-size="5.1" fill="#3a3a3a" text-anchor="end">-6</text>
<text x="32.80" y="329.00" font-family="Liberation Serif" font-size="5.2" fill="#333" text-anchor="middle">-6</text>
<text x="50.80" y="329.00" font-family="Liberation Serif" font-size="5.2" fill="#333" text-anchor="middle">-4</text>
<text x="68.80" y="329.00" font-family="Liberation Serif" font-size="5.2" fill="#333" text-anchor="middle">-2</text>
<text x="86.80" y="329.00" font-family="Liberation Serif" font-size="5.2" fill="#333" text-anchor="middle">0</text>
<line x1="32.80" y1="323.10" x2="95.80" y2="260.10" stroke="#404040" stroke-width="0.9" />
<polygon points="39.30,317.37 40.44,316.13 41.57,314.89 42.71,313.64 43.85,312.40 44.99,311.16 46.13,309.91 47.27,308.67 48.41,307.43 49.55,306.18 50.69,304.94 51.83,303.70 52.97,302.45 52.03,301.55 50.82,302.72 49.61,303.89 48.40,305.07 47.19,306.24 45.98,307.41 44.77,308.59 43.56,309.76 42.35,310.93 41.14,312.11 39.93,313.28 38.71,314.46 37.50,315.63" fill="#2f6fd6" />
<path d="M118.30,260.10V323.10M109.30,314.10H172.30M127.30,260.10V323.10M109.30,305.10H172.30M136.30,260.10V323.10M109.30,296.10H172.30M145.30,260.10V323.10M109.30,287.10H172.30M154.30,260.10V323.10M109.30,278.10H172.30M163.30,260.10V323.10M109.30,269.10H172.30M172.30,260.10V323.10M109.30,260.10H172.30" stroke="#f3f3f3" stroke-width="0.6" fill="none"/>
<line x1="109.30" y1="260.10" x2="109.30" y2="323.10" stroke="#cfcfcf" stroke-width="0.7" />
<line x1="109.30" y1="323.10" x2="172.30" y2="323.10" stroke="#cfcfcf" stroke-width="0.7" />
<text x="107.70" y="270.80" font-family="Liberation Serif" font-size="5.1" fill="#3a3a3a" text-anchor="end">0</text>
<text x="107.70" y="288.80" font-family="Liberation Serif" font-size="5.1" fill="#3a3a3a" text-anchor="end">-2</text>
<text x="107.70" y="306.80" font-family="Liberation Serif" font-size="5.1" fill="#3a3a3a" text-anchor="end">-4</text>
<text x="107.70" y="324.80" font-family="Liberation Serif" font-size="5.1" fill="#3a3a3a" text-anchor="end">-6</text>
<text x="109.30" y="329.00" font-family="Liberation Serif" font-size="5.2" fill="#333" text-anchor="middle">-6</text>
<text x="127.30" y="329.00" font-family="Liberation Serif" font-size="5.2" fill="#333" text-anchor="middle">-4</text>
<text x="145.30" y="329.00" font-family="Liberation Serif" font-size="5.2" fill="#333" text-anchor="middle">-2</text>
<text x="163.30" y="329.00" font-family="Liberation Serif" font-size="5.2" fill="#333" text-anchor="middle">0</text>
<line x1="109.30" y1="323.10" x2="172.30" y2="260.10" stroke="#404040" stroke-width="0.9" />
<polygon points="125.82,306.35 127.47,304.86 129.12,303.37 130.77,301.88 132.42,300.40 134.07,298.91 135.72,297.42 137.37,295.93 139.02,294.44 140.67,292.96 142.32,291.47 143.97,289.98 145.62,288.49 144.78,287.51 143.06,288.92 141.34,290.33 139.63,291.74 137.91,293.16 136.20,294.57 134.48,295.98 132.76,297.39 131.05,298.80 129.33,300.22 127.62,301.63 125.90,303.04 124.18,304.45" fill="#2f6fd6" />
<path d="M194.70,260.10V323.10M185.70,314.10H248.70M203.70,260.10V323.10M185.70,305.10H248.70M212.70,260.10V323.10M185.70,296.10H248.70M221.70,260.10V323.10M185.70,287.10H248.70M230.70,260.10V323.10M185.70,278.10H248.70M239.70,260.10V323.10M185.70,269.10H248.70M248.70,260.10V323.10M185.70,260.10H248.70" stroke="#f3f3f3" stroke-width="0.6" fill="none"/>
<line x1="185.70" y1="260.10" x2="185.70" y2="323.10" stroke="#cfcfcf" stroke-width="0.7" />
<line x1="185.70" y1="323.10" x2="248.70" y2="323.10" stroke="#cfcfcf" stroke-width="0.7" />
<text x="184.10" y="270.80" font-family="Liberation Serif" font-size="5.1" fill="#3a3a3a" text-anchor="end">0</text>
<text x="184.10" y="288.80" font-family="Liberation Serif" font-size="5.1" fill="#3a3a3a" text-anchor="end">-2</text>
<text x="184.10" y="306.80" font-family="Liberation Serif" font-size="5.1" fill="#3a3a3a" text-anchor="end">-4</text>
<text x="184.10" y="324.80" font-family="Liberation Serif" font-size="5.1" fill="#3a3a3a" text-anchor="end">-6</text>
<text x="185.70" y="329.00" font-family="Liberation Serif" font-size="5.2" fill="#333" text-anchor="middle">-6</text>
<text x="203.70" y="329.00" font-family="Liberation Serif" font-size="5.2" fill="#333" text-anchor="middle">-4</text>
<text x="221.70" y="329.00" font-family="Liberation Serif" font-size="5.2" fill="#333" text-anchor="middle">-2</text>
<text x="239.70" y="329.00" font-family="Liberation Serif" font-size="5.2" fill="#333" text-anchor="middle">0</text>
<line x1="185.70" y1="323.10" x2="248.70" y2="260.10" stroke="#404040" stroke-width="0.9" />
<polygon points="194.06,315.71 195.47,314.30 196.87,312.90 198.28,311.50 199.69,310.10 201.10,308.69 202.50,307.29 203.91,305.89 205.32,304.48 206.73,303.08 208.13,301.68 209.54,300.27 210.95,298.87 210.05,297.93 208.58,299.26 207.10,300.59 205.62,301.92 204.15,303.25 202.67,304.58 201.20,305.91 199.72,307.24 198.24,308.57 196.77,309.90 195.29,311.23 193.82,312.56 192.34,313.89" fill="#2f6fd6" />
<path d="M271.20,260.10V323.10M262.20,314.10H325.20M280.20,260.10V323.10M262.20,305.10H325.20M289.20,260.10V323.10M262.20,296.10H325.20M298.20,260.10V323.10M262.20,287.10H325.20M307.20,260.10V323.10M262.20,278.10H325.20M316.20,260.10V323.10M262.20,269.10H325.20M325.20,260.10V323.10M262.20,260.10H325.20" stroke="#f3f3f3" stroke-width="0.6" fill="none"/>
<line x1="262.20" y1="260.10" x2="262.20" y2="323.10" stroke="#cfcfcf" stroke-width="0.7" />
<line x1="262.20" y1="323.10" x2="325.20" y2="323.10" stroke="#cfcfcf" stroke-width="0.7" />
<text x="260.60" y="270.80" font-family="Liberation Serif" font-size="5.1" fill="#3a3a3a" text-anchor="end">0</text>
<text x="260.60" y="288.80" font-family="Liberation Serif" font-size="5.1" fill="#3a3a3a" text-anchor="end">-2</text>
<text x="260.60" y="306.80" font-family="Liberation Serif" font-size="5.1" fill="#3a3a3a" text-anchor="end">-4</text>
<text x="260.60" y="324.80" font-family="Liberation Serif" font-size="5.1" fill="#3a3a3a" text-anchor="end">-6</text>
<text x="262.20" y="329.00" font-family="Liberation Serif" font-size="5.2" fill="#333" text-anchor="middle">-6</text>
<text x="280.20" y="329.00" font-family="Liberation Serif" font-size="5.2" fill="#333" text-anchor="middle">-4</text>
<text x="298.20" y="329.00" font-family="Liberation Serif" font-size="5.2" fill="#333" text-anchor="middle">-2</text>
<text x="316.20" y="329.00" font-family="Liberation Serif" font-size="5.2" fill="#333" text-anchor="middle">0</text>
<line x1="262.20" y1="323.10" x2="325.20" y2="260.10" stroke="#404040" stroke-width="0.9" />
<polygon points="283.33,304.54 284.55,303.10 285.77,301.67 286.99,300.24 288.21,298.80 289.44,297.37 290.66,295.94 291.88,294.50 293.10,293.07 294.32,291.63 295.54,290.20 296.76,288.77 297.98,287.33 297.02,286.47 295.72,287.83 294.43,289.20 293.13,290.57 291.83,291.93 290.54,293.30 289.24,294.66 287.95,296.03 286.65,297.40 285.36,298.76 284.06,300.13 282.77,301.50 281.47,302.86" fill="#2f6fd6" />
<path d="M347.70,260.10V323.10M338.70,314.10H401.70M356.70,260.10V323.10M338.70,305.10H401.70M365.70,260.10V323.10M338.70,296.10H401.70M374.70,260.10V323.10M338.70,287.10H401.70M383.70,260.10V323.10M338.70,278.10H401.70M392.70,260.10V323.10M338.70,269.10H401.70M401.70,260.10V323.10M338.70,260.10H401.70" stroke="#f3f3f3" stroke-width="0.6" fill="none"/>
<line x1="338.70" y1="260.10" x2="338.70" y2="323.10" stroke="#cfcfcf" stroke-width="0.7" />
<line x1="338.70" y1="323.10" x2="401.70" y2="323.10" stroke="#cfcfcf" stroke-width="0.7" />
<text x="337.10" y="270.80" font-family="Liberation Serif" font-size="5.1" fill="#3a3a3a" text-anchor="end">0</text>
<text x="337.10" y="288.80" font-family="Liberation Serif" font-size="5.1" fill="#3a3a3a" text-anchor="end">-2</text>
<text x="337.10" y="306.80" font-family="Liberation Serif" font-size="5.1" fill="#3a3a3a" text-anchor="end">-4</text>
<text x="337.10" y="324.80" font-family="Liberation Serif" font-size="5.1" fill="#3a3a3a" text-anchor="end">-6</text>
<text x="338.70" y="329.00" font-family="Liberation Serif" font-size="5.2" fill="#333" text-anchor="middle">-6</text>
<text x="356.70" y="329.00" font-family="Liberation Serif" font-size="5.2" fill="#333" text-anchor="middle">-4</text>
<text x="374.70" y="329.00" font-family="Liberation Serif" font-size="5.2" fill="#333" text-anchor="middle">-2</text>
<text x="392.70" y="329.00" font-family="Liberation Serif" font-size="5.2" fill="#333" text-anchor="middle">0</text>
<line x1="338.70" y1="323.10" x2="401.70" y2="260.10" stroke="#404040" stroke-width="0.9" />
<polygon points="352.18,312.28 353.12,311.27 354.06,310.26 355.00,309.25 355.94,308.24 356.88,307.23 357.82,306.22 358.76,305.21 359.70,304.20 360.64,303.19 361.58,302.18 362.52,301.17 363.46,300.16 362.54,299.24 361.53,300.18 360.52,301.12 359.51,302.06 358.50,303.00 357.49,303.94 356.48,304.88 355.47,305.82 354.46,306.76 353.45,307.70 352.44,308.64 351.43,309.58 350.42,310.52" fill="#2f6fd6" />
<rect x="36.60" y="267.80" width="2.2" height="2.2" fill="#2f6fd6"/>
<text x="41.50" y="270.50" font-family="Liberation Serif" font-size="5.0" fill="#222" textLength="25.20" lengthAdjust="spacingAndGlyphs">Non-Magnetic</text>
<text x="62.40" y="122.70" font-family="Liberation Serif" font-size="9.3" fill="#111" text-anchor="middle" stroke="#111" stroke-width="0.05">Co</text>
<text x="138.90" y="122.70" font-family="Liberation Serif" font-size="9.3" fill="#111" text-anchor="middle" stroke="#111" stroke-width="0.05">Cr</text>
<text x="215.30" y="122.70" font-family="Liberation Serif" font-size="9.3" fill="#111" text-anchor="middle" stroke="#111" stroke-width="0.05">Fe</text>
<text x="291.80" y="122.70" font-family="Liberation Serif" font-size="9.3" fill="#111" text-anchor="middle" stroke="#111" stroke-width="0.05">Mn</text>
<text x="368.30" y="122.70" font-family="Liberation Serif" font-size="9.3" fill="#111" text-anchor="middle" stroke="#111" stroke-width="0.05">Ni</text>
<text x="138.00" y="340.40" font-family="Liberation Serif" font-size="8.6" fill="#111" textLength="115.70" lengthAdjust="spacingAndGlyphs" stroke="#111" stroke-width="0.15">DFT Calculated Cohesive Energy (eV)</text>
<text transform="translate(22.6,292.4) rotate(-90)" x="0" y="0" font-family="Liberation Serif" font-size="8.8" fill="#111" stroke="#111" stroke-width="0.15" textLength="121.8" lengthAdjust="spacingAndGlyphs">GUES Predicted Cohesive Energy (eV)</text>
<line x1="575.20" y1="126.80" x2="618.20" y2="126.80" stroke="#dedede" stroke-width="1.0" />
<line x1="618.20" y1="126.80" x2="618.20" y2="164.80" stroke="#dedede" stroke-width="1.0" />
<line x1="575.20" y1="164.80" x2="618.20" y2="164.80" stroke="#dedede" stroke-width="1.0" />
<line x1="575.20" y1="126.80" x2="575.20" y2="164.80" stroke="#dedede" stroke-width="1.0" />
<line x1="575.20" y1="126.80" x2="551.90" y2="140.80" stroke="#dedede" stroke-width="1.0" />
<line x1="618.20" y1="126.80" x2="594.50" y2="140.80" stroke="#dedede" stroke-width="1.0" />
<line x1="575.20" y1="164.80" x2="551.90" y2="178.60" stroke="#dedede" stroke-width="1.0" />
<line x1="618.20" y1="164.80" x2="594.60" y2="178.60" stroke="#dedede" stroke-width="1.0" />
<rect x="564.4" y="133.5" width="42.2" height="37.3" fill="#d6d6d6" fill-opacity="0.85"/>
<line x1="551.90" y1="140.80" x2="594.50" y2="140.80" stroke="#dedede" stroke-width="1.0" />
<line x1="594.50" y1="140.80" x2="594.60" y2="178.60" stroke="#dedede" stroke-width="1.0" />
<line x1="551.90" y1="178.60" x2="594.60" y2="178.60" stroke="#dedede" stroke-width="1.0" />
<line x1="551.90" y1="140.80" x2="551.90" y2="178.60" stroke="#dedede" stroke-width="1.0" />
<line x1="575.20" y1="164.80" x2="575.20" y2="151.40" stroke="#bdbdbd" stroke-width="1.5" />
<polygon points="577.70,151.40 575.20,146.90 572.70,151.40" fill="#bdbdbd" />
<circle cx="575.20" cy="164.80" r="2.8" fill="#b4c8dc" />
<line x1="575.20" y1="126.80" x2="575.20" y2="112.50" stroke="#b2b2b2" stroke-width="1.5" />
<polygon points="577.80,112.50 575.20,107.80 572.60,112.50" fill="#b2b2b2" />
<line x1="618.20" y1="126.80" x2="618.20" y2="112.50" stroke="#b2b2b2" stroke-width="1.5" />
<polygon points="620.80,112.50 618.20,107.80 615.60,112.50" fill="#b2b2b2" />
<line x1="618.20" y1="164.80" x2="618.20" y2="151.40" stroke="#b2b2b2" stroke-width="1.5" />
<polygon points="620.70,151.40 618.20,146.90 615.70,151.40" fill="#b2b2b2" />
<line x1="551.90" y1="140.80" x2="551.90" y2="126.30" stroke="#b2b2b2" stroke-width="1.5" />
<polygon points="554.40,126.30 551.90,121.80 549.40,126.30" fill="#b2b2b2" />
<line x1="594.60" y1="178.60" x2="594.60" y2="160.50" stroke="#b2b2b2" stroke-width="1.5" />
<circle cx="575.20" cy="126.80" r="2.8" fill="#bdd7ee" />
<circle cx="618.20" cy="126.80" r="2.8" fill="#bdd7ee" />
<circle cx="618.20" cy="164.80" r="2.8" fill="#bdd7ee" />
<circle cx="551.90" cy="140.80" r="2.8" fill="#bdd7ee" />
<circle cx="594.60" cy="178.60" r="2.8" fill="#bdd7ee" />
<line x1="551.90" y1="178.00" x2="551.90" y2="161.90" stroke="#000" stroke-width="1.7" />
<polygon points="554.20,161.90 551.90,157.90 549.60,161.90" fill="#000" />
<circle cx="551.90" cy="178.60" r="2.8" fill="#5b8fd6" />
<line x1="584.40" y1="154.00" x2="584.40" y2="138.20" stroke="#000" stroke-width="1.6" />
<polygon points="586.60,138.20 584.40,134.40 582.20,138.20" fill="#000" />
<line x1="584.40" y1="154.00" x2="584.40" y2="169.00" stroke="#000" stroke-width="1.6" />
<polygon points="582.20,169.00 584.40,172.80 586.60,169.00" fill="#000" />
<line x1="584.40" y1="154.00" x2="591.48" y2="144.94" stroke="#000" stroke-width="1.6" />
<polygon points="593.21,146.29 593.82,141.94 589.75,143.58" fill="#000" />
<line x1="584.40" y1="154.00" x2="597.84" y2="148.30" stroke="#000" stroke-width="1.6" />
<polygon points="598.70,150.32 601.34,146.81 596.98,146.27" fill="#000" />
<line x1="584.40" y1="154.00" x2="596.68" y2="159.36" stroke="#000" stroke-width="1.6" />
<polygon points="595.80,161.38 600.16,160.89 597.56,157.35" fill="#000" />
<line x1="584.40" y1="154.00" x2="590.87" y2="164.11" stroke="#000" stroke-width="1.6" />
<polygon points="589.01,165.29 592.91,167.31 592.72,162.92" fill="#000" />
<circle cx="584.40" cy="154.00" r="2.7" fill="#e0782a" />
<circle cx="594.50" cy="140.80" r="2.8" fill="#bdd7ee" />
<text x="500.00" y="144.60" font-family="Liberation Serif" font-size="8.4" fill="#111" text-anchor="middle" textLength="51.10" lengthAdjust="spacingAndGlyphs" stroke="#111" stroke-width="0.2">Rotation in the</text>
<text x="499.80" y="154.00" font-family="Liberation Serif" font-size="8.4" fill="#111" text-anchor="middle" textLength="41.90" lengthAdjust="spacingAndGlyphs" stroke="#111" stroke-width="0.2">(100) plane</text>
<line x1="462.20" y1="197.50" x2="462.20" y2="322.90" stroke="#c8c8c8" stroke-width="0.9" />
<line x1="462.20" y1="322.90" x2="640.80" y2="322.90" stroke="#c8c8c8" stroke-width="0.9" />
<line x1="462.20" y1="197.50" x2="464.00" y2="197.50" stroke="#c8c8c8" stroke-width="0.7" />
<text x="460.30" y="200.00" font-family="Liberation Serif" font-size="7.3" fill="#222" text-anchor="end" textLength="11.30" lengthAdjust="spacingAndGlyphs" stroke="#222" stroke-width="0.15">−4.6</text>
<line x1="462.20" y1="218.40" x2="464.00" y2="218.40" stroke="#c8c8c8" stroke-width="0.7" />
<text x="460.30" y="220.90" font-family="Liberation Serif" font-size="7.3" fill="#222" text-anchor="end" textLength="11.30" lengthAdjust="spacingAndGlyphs" stroke="#222" stroke-width="0.15">−4.7</text>
<line x1="462.20" y1="239.30" x2="464.00" y2="239.30" stroke="#c8c8c8" stroke-width="0.7" />
<text x="460.30" y="241.80" font-family="Liberation Serif" font-size="7.3" fill="#222" text-anchor="end" textLength="11.30" lengthAdjust="spacingAndGlyphs" stroke="#222" stroke-width="0.15">−4.8</text>
<line x1="462.20" y1="260.20" x2="464.00" y2="260.20" stroke="#c8c8c8" stroke-width="0.7" />
<text x="460.30" y="262.70" font-family="Liberation Serif" font-size="7.3" fill="#222" text-anchor="end" textLength="11.30" lengthAdjust="spacingAndGlyphs" stroke="#222" stroke-width="0.15">−4.9</text>
<line x1="462.20" y1="281.10" x2="464.00" y2="281.10" stroke="#c8c8c8" stroke-width="0.7" />
<text x="460.30" y="283.60" font-family="Liberation Serif" font-size="7.3" fill="#222" text-anchor="end" textLength="6.60" lengthAdjust="spacingAndGlyphs" stroke="#222" stroke-width="0.15">−5</text>
<line x1="462.20" y1="302.00" x2="464.00" y2="302.00" stroke="#c8c8c8" stroke-width="0.7" />
<text x="460.30" y="304.50" font-family="Liberation Serif" font-size="7.3" fill="#222" text-anchor="end" textLength="11.30" lengthAdjust="spacingAndGlyphs" stroke="#222" stroke-width="0.15">−5.1</text>
<line x1="462.20" y1="322.90" x2="464.00" y2="322.90" stroke="#c8c8c8" stroke-width="0.7" />
<text x="460.30" y="325.40" font-family="Liberation Serif" font-size="7.3" fill="#222" text-anchor="end" textLength="11.30" lengthAdjust="spacingAndGlyphs" stroke="#222" stroke-width="0.15">−5.2</text>
<line x1="461.90" y1="322.90" x2="461.90" y2="321.10" stroke="#c8c8c8" stroke-width="0.7" />
<text x="461.90" y="330.90" font-family="Liberation Serif" font-size="7.4" fill="#222" text-anchor="middle" stroke="#222" stroke-width="0.15">0</text>
<line x1="491.71" y1="322.90" x2="491.71" y2="321.10" stroke="#c8c8c8" stroke-width="0.7" />
<text x="491.71" y="330.90" font-family="Liberation Serif" font-size="7.4" fill="#222" text-anchor="middle" stroke="#222" stroke-width="0.15">0.5</text>
<line x1="521.53" y1="322.90" x2="521.53" y2="321.10" stroke="#c8c8c8" stroke-width="0.7" />
<text x="521.53" y="330.90" font-family="Liberation Serif" font-size="7.4" fill="#222" text-anchor="middle" stroke="#222" stroke-width="0.15">1</text>
<line x1="551.35" y1="322.90" x2="551.35" y2="321.10" stroke="#c8c8c8" stroke-width="0.7" />
<text x="551.35" y="330.90" font-family="Liberation Serif" font-size="7.4" fill="#222" text-anchor="middle" stroke="#222" stroke-width="0.15">1.5</text>
<line x1="581.16" y1="322.90" x2="581.16" y2="321.10" stroke="#c8c8c8" stroke-width="0.7" />
<text x="581.16" y="330.90" font-family="Liberation Serif" font-size="7.4" fill="#222" text-anchor="middle" stroke="#222" stroke-width="0.15">2</text>
<line x1="610.98" y1="322.90" x2="610.98" y2="321.10" stroke="#c8c8c8" stroke-width="0.7" />
<text x="610.98" y="330.90" font-family="Liberation Serif" font-size="7.4" fill="#222" text-anchor="middle" stroke="#222" stroke-width="0.15">2.5</text>
<line x1="640.79" y1="322.90" x2="640.79" y2="321.10" stroke="#c8c8c8" stroke-width="0.7" />
<text x="640.79" y="330.90" font-family="Liberation Serif" font-size="7.4" fill="#222" text-anchor="middle" stroke="#222" stroke-width="0.15">3</text>
<text x="471.40" y="339.50" font-family="Liberation Serif" font-size="7.3" fill="#222" textLength="159.70" lengthAdjust="spacingAndGlyphs" stroke="#222" stroke-width="0.08">Average magnitude of the magnetic moment (<tspan font-style='italic'>μ</tspan><tspan font-size='5' dy='1'>B</tspan><tspan dy='-1'>)</tspan></text>
<text transform="translate(445.4,294) rotate(-90)" font-family="Liberation Serif" font-size="7.6" fill="#222" stroke="#222" stroke-width="0.15" textLength="68.4" lengthAdjust="spacingAndGlyphs">Cohesive Energy(eV)</text>
<polyline points="484.40,220.00 507.40,224.00 529.40,234.00 551.40,241.50 572.20,244.50 592.90,235.60 612.50,210.20" fill="none" stroke="#8b1010" stroke-width="1.0" stroke-linejoin="round" />
<polyline points="484.40,221.00 507.40,225.00 529.40,237.00 551.40,245.50 572.20,249.40 592.90,243.10 612.50,220.30" fill="none" stroke="#e61e1e" stroke-width="1.0" stroke-linejoin="round" />
<polyline points="484.40,221.50 507.40,226.00 529.40,239.50 551.40,249.50 572.20,257.50 592.90,252.60 612.50,233.20" fill="none" stroke="#ff5a1e" stroke-width="1.0" stroke-linejoin="round" />
<polyline points="484.40,222.00 507.40,231.00 529.40,246.50 551.40,262.00 572.40,274.00 592.20,275.50 611.50,263.40" fill="none" stroke="#c8f03c" stroke-width="1.0" stroke-linejoin="round" />
<polyline points="484.40,222.50 507.40,233.00 529.40,254.50 551.40,274.80 572.40,289.80 592.20,298.40 609.00,293.00" fill="none" stroke="#64e6ff" stroke-width="1.0" stroke-linejoin="round" />
<polyline points="484.40,223.00 507.40,234.00 529.40,256.00 551.40,278.00 572.40,295.30 592.20,307.40 609.40,305.40 625.00,287.40" fill="none" stroke="#3c9bf0" stroke-width="1.0" stroke-linejoin="round" />
<polyline points="484.40,223.50 507.40,235.00 529.40,257.50 551.40,281.40 572.40,300.60 592.20,314.40 608.00,315.00 625.00,298.00" fill="none" stroke="#1e32e6" stroke-width="1.0" stroke-linejoin="round" />
<circle cx="484.40" cy="216.00" r="1.25" fill="#8b1010" />
<circle cx="507.40" cy="222.80" r="1.25" fill="#8b1010" />
<circle cx="529.40" cy="229.70" r="1.25" fill="#8b1010" />
<circle cx="551.40" cy="234.40" r="1.25" fill="#8b1010" />
<circle cx="572.20" cy="234.70" r="1.25" fill="#8b1010" />
<circle cx="592.90" cy="229.10" r="1.25" fill="#8b1010" />
<circle cx="612.50" cy="214.90" r="1.25" fill="#8b1010" />
<circle cx="484.40" cy="218.00" r="1.25" fill="#e61e1e" />
<circle cx="507.40" cy="225.60" r="1.25" fill="#e61e1e" />
<circle cx="529.40" cy="232.50" r="1.25" fill="#e61e1e" />
<circle cx="551.40" cy="240.00" r="1.25" fill="#e61e1e" />
<circle cx="572.20" cy="242.80" r="1.25" fill="#e61e1e" />
<circle cx="592.90" cy="239.90" r="1.25" fill="#e61e1e" />
<circle cx="612.50" cy="227.30" r="1.25" fill="#e61e1e" />
<circle cx="484.40" cy="219.00" r="1.25" fill="#ff5a1e" />
<circle cx="507.40" cy="227.00" r="1.25" fill="#ff5a1e" />
<circle cx="529.40" cy="236.00" r="1.25" fill="#ff5a1e" />
<circle cx="551.40" cy="246.40" r="1.25" fill="#ff5a1e" />
<circle cx="572.20" cy="253.00" r="1.25" fill="#ff5a1e" />
<circle cx="592.90" cy="252.60" r="1.25" fill="#ff5a1e" />
<circle cx="612.50" cy="241.90" r="1.25" fill="#ff5a1e" />
<circle cx="484.40" cy="220.00" r="1.25" fill="#c8f03c" />
<circle cx="507.40" cy="231.00" r="1.25" fill="#c8f03c" />
<circle cx="529.40" cy="246.50" r="1.25" fill="#c8f03c" />
<circle cx="551.40" cy="262.00" r="1.25" fill="#c8f03c" />
<circle cx="572.40" cy="274.00" r="1.25" fill="#c8f03c" />
<circle cx="592.20" cy="279.40" r="1.25" fill="#c8f03c" />
<circle cx="611.50" cy="273.00" r="1.25" fill="#c8f03c" />
<circle cx="484.40" cy="221.00" r="1.25" fill="#64e6ff" />
<circle cx="507.40" cy="234.00" r="1.25" fill="#64e6ff" />
<circle cx="529.40" cy="258.80" r="1.25" fill="#64e6ff" />
<circle cx="551.40" cy="277.00" r="1.25" fill="#64e6ff" />
<circle cx="572.40" cy="293.60" r="1.25" fill="#64e6ff" />
<circle cx="592.20" cy="303.00" r="1.25" fill="#64e6ff" />
<circle cx="611.00" cy="300.00" r="1.25" fill="#64e6ff" />
<circle cx="484.40" cy="222.00" r="1.25" fill="#3c9bf0" />
<circle cx="507.40" cy="236.00" r="1.25" fill="#3c9bf0" />
<circle cx="529.40" cy="259.00" r="1.25" fill="#3c9bf0" />
<circle cx="551.40" cy="283.00" r="1.25" fill="#3c9bf0" />
<circle cx="572.40" cy="301.00" r="1.25" fill="#3c9bf0" />
<circle cx="592.20" cy="312.00" r="1.25" fill="#3c9bf0" />
<circle cx="611.00" cy="309.40" r="1.25" fill="#3c9bf0" />
<circle cx="625.00" cy="290.00" r="1.25" fill="#3c9bf0" />
<circle cx="484.40" cy="222.50" r="1.25" fill="#1e32e6" />
<circle cx="507.40" cy="238.20" r="1.25" fill="#1e32e6" />
<circle cx="529.40" cy="262.50" r="1.25" fill="#1e32e6" />
<circle cx="551.40" cy="286.70" r="1.25" fill="#1e32e6" />
<circle cx="572.40" cy="306.60" r="1.25" fill="#1e32e6" />
<circle cx="592.20" cy="318.60" r="1.25" fill="#1e32e6" />
<circle cx="608.00" cy="316.00" r="1.25" fill="#1e32e6" />
<circle cx="625.00" cy="298.00" r="1.25" fill="#1e32e6" />
<circle cx="470.40" cy="276.60" r="1.3" fill="#1e1ee6" />
<text x="474.90" y="278.60" font-family="Liberation Serif" font-size="6.4" fill="#111">30<tspan font-size='5' dy='-1.3'>°</tspan></text>
<circle cx="470.40" cy="283.50" r="1.3" fill="#3c9bf0" />
<text x="474.90" y="285.50" font-family="Liberation Serif" font-size="6.4" fill="#111">45<tspan font-size='5' dy='-1.3'>°</tspan></text>
<circle cx="470.40" cy="290.40" r="1.3" fill="#64f0ff" />
<text x="474.90" y="292.40" font-family="Liberation Serif" font-size="6.4" fill="#111">90<tspan font-size='5' dy='-1.3'>°</tspan></text>
<circle cx="470.40" cy="297.30" r="1.3" fill="#c8f03c" />
<text x="474.90" y="299.30" font-family="Liberation Serif" font-size="6.4" fill="#111">120<tspan font-size='5' dy='-1.3'>°</tspan></text>
<circle cx="470.40" cy="304.20" r="1.3" fill="#ff5a1e" />
<text x="474.90" y="306.20" font-family="Liberation Serif" font-size="6.4" fill="#111">135<tspan font-size='5' dy='-1.3'>°</tspan></text>
<circle cx="470.40" cy="311.10" r="1.3" fill="#e61e1e" />
<text x="474.90" y="313.10" font-family="Liberation Serif" font-size="6.4" fill="#111">150<tspan font-size='5' dy='-1.3'>°</tspan></text>
<line x1="493.10" y1="302.00" x2="500.80" y2="302.00" stroke="#333" stroke-width="1.5" />
<text x="503.30" y="303.70" font-family="Liberation Serif" font-size="6.8" fill="#222" textLength="48.50" lengthAdjust="spacingAndGlyphs" stroke="#222" stroke-width="0.15">GUES calculations</text>
<circle cx="497.70" cy="311.10" r="1.2" fill="#000" />
<text x="503.30" y="313.40" font-family="Liberation Serif" font-size="6.8" fill="#222" textLength="43.40" lengthAdjust="spacingAndGlyphs" stroke="#222" stroke-width="0.15">DFT calculations</text>
</svg>
</body></html>
